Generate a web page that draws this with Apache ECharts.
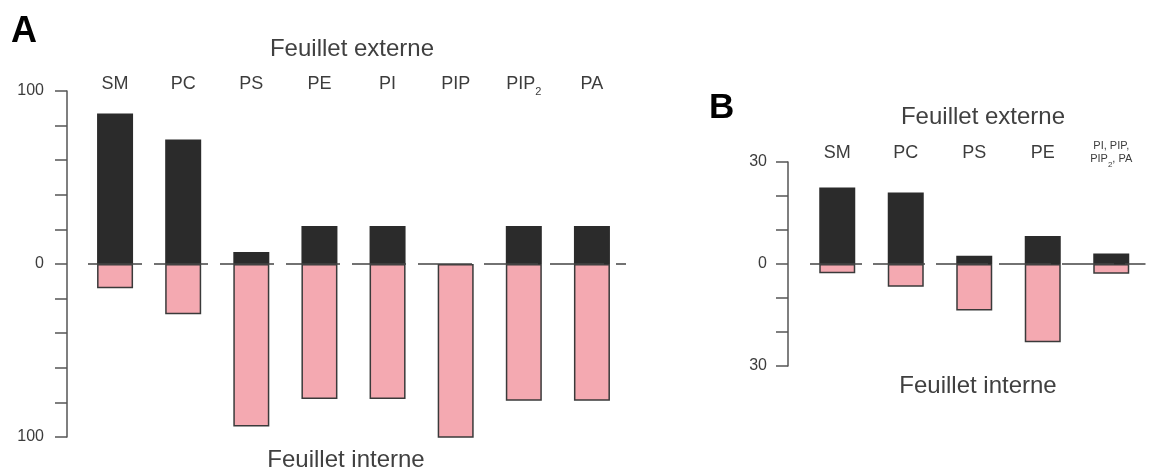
<!DOCTYPE html>
<html>
<head>
<meta charset="utf-8">
<title>Feuillet externe / interne</title>
<script src="https://cdn.jsdelivr.net/npm/echarts@6/dist/echarts.min.js"></script>
<style>
  html, body { margin: 0; padding: 0; background: #ffffff; }
  #chart { width: 1149px; height: 476px; }
</style>
</head>
<body>
<div id="chart"></div>
<script>
// panel A data (percent of each lipid)
var catsA = ['SM', 'PC', 'PS', 'PE', 'PI', 'PIP', 'PIP2', 'PA'];
var externeA = [87, 72, 7, 22, 22, 0, 22, 22];
var interneA = [14, 29, 94, 78, 78, 101, 79, 79];
var ticksA = [-100, 0, 100];

// panel B data
var catsB = ['SM', 'PC', 'PS', 'PE', 'PI, PIP, PIP2, PA'];
var externeB = [22.5, 21, 2.4, 8.2, 3.1];
var interneB = [2.7, 6.7, 13.7, 23, 2.9];
var ticksB = [-30, 0, 30];

var FONT = '"Liberation Sans", Arial, sans-serif';
var TEXT_COLOR = '#3c3c3c';
var AXIS_COLOR = '#555555';
var DARK = '#2b2b2b';
var PINK = '#f4a9b1';

// interne goes downward
function negate(arr){
    return arr.map(function(v){ return -v; });
}

// y axis shows only the labelled ticks, as absolute values
function yAxisFor(gridIndex, range, step, shown, offset, margin){
    return {
        gridIndex: gridIndex,
        type: 'value',
        min: -range,
        max: range,
        interval: step,
        offset: offset,
        axisLine: { show: true, lineStyle: { color: AXIS_COLOR, width: 1.5 } },
        axisTick: { show: true, inside: false, length: 12, lineStyle: { color: AXIS_COLOR, width: 1.5 } },
        splitLine: { show: false },
        axisLabel: {
            margin: margin,
            fontFamily: FONT,
            fontSize: 16,
            color: TEXT_COLOR,
            formatter: function(v){
                return shown.indexOf(v) >= 0 ? String(Math.abs(v)) : '';
            }
        }
    };
}

// n = normal name, s/u = subscript "2" (padding only shifts the glyph, lineHeight is fixed)
var richA = {
    n: { fontFamily: FONT, fontSize: 18, lineHeight: 18, color: TEXT_COLOR, verticalAlign: 'top' },
    s: { fontFamily: FONT, fontSize: 11, lineHeight: 11, color: TEXT_COLOR, verticalAlign: 'top', padding: [11, 0, 0, 0] }
};
var richB = {
    n: { fontFamily: FONT, fontSize: 18, lineHeight: 18, color: TEXT_COLOR, verticalAlign: 'top' },
    t: { fontFamily: FONT, fontSize: 11, lineHeight: 13, color: TEXT_COLOR, verticalAlign: 'top', padding: [4, 0, 0, 0] },
    u: { fontFamily: FONT, fontSize: 8, lineHeight: 8, color: TEXT_COLOR, verticalAlign: 'top', padding: [12, 0, 0, 0] }
};

function labelA(v){
    if (v === 'PIP2') return '{n|PIP}{s|2}';
    return '{n|' + v + '}';
}
function labelB(v){
    if (v === 'PI, PIP, PIP2, PA') return '{t|PI, PIP,}\n{t|PIP}{u|2}{t|, PA}';
    return '{n|' + v + '}';
}

function xAxisFor(gridIndex, cats, fmt, rich, margin){
    return {
        gridIndex: gridIndex,
        type: 'category',
        position: 'top',
        data: cats,
        axisLine: { show: false },
        axisTick: { show: false },
        splitLine: { show: false },
        axisLabel: { margin: margin, interval: 0, formatter: fmt, rich: rich }
    };
}

// zero line, broken between the bars
function zeroLine(dash, offset){
    return {
        silent: true,
        symbol: 'none',
        label: { show: false },
        lineStyle: { color: '#444444', width: 1.5, type: dash, dashOffset: offset },
        data: [{ yAxis: 0 }]
    };
}

function barsFor(idx, ext, intr, dash, offset){
    return [
        {
            type: 'bar',
            xAxisIndex: idx,
            yAxisIndex: idx,
            barWidth: 36,
            barGap: '-100%',
            data: negate(intr),
            itemStyle: { color: PINK, borderColor: '#3a3a3a', borderWidth: 1.5 },
            markLine: zeroLine(dash, offset),
            z: 2
        },
        {
            type: 'bar',
            xAxisIndex: idx,
            yAxisIndex: idx,
            barWidth: 36,
            barGap: '-100%',
            data: ext,
            itemStyle: { color: DARK },
            z: 3
        }
    ];
}

function headText(text, x, y, size, bold){
    return {
        type: 'text',
        x: x,
        y: y,
        style: {
            text: text,
            fill: bold ? '#000000' : '#404040',
            font: (bold ? 'bold ' : '') + size + 'px ' + FONT,
            align: bold ? 'left' : 'center',
            verticalAlign: 'middle'
        }
    };
}

var container = document.getElementById('chart');
var myChart = echarts.init(container, null, { renderer: 'canvas' });

var option = {
    backgroundColor: '#ffffff',
    animation: false,
    grid: [
        { left: 81, width: 545, top: 91, height: 346 },
        { left: 803, width: 342.5, top: 162, height: 204 }
    ],
    xAxis: [
        xAxisFor(0, catsA, labelA, richA, -2),
        xAxisFor(1, catsB, labelB, richB, 0)
    ],
    yAxis: [
        yAxisFor(0, 100, 20, ticksA, 14, 23),
        yAxisFor(1, 30, 10, ticksB, 15, 21)
    ],
    series: barsFor(0, externeA, interneA, [54, 12], 59)
        .concat(barsFor(1, externeB, interneB, [52, 11], 56)),
    graphic: [
        headText('A', 11, 32, 36, true),
        headText('Feuillet externe', 352, 49, 24, false),
        headText('Feuillet interne', 346, 460, 24, false),
        headText('B', 709, 108, 35, true),
        headText('Feuillet externe', 983, 117, 24, false),
        headText('Feuillet interne', 978, 386, 24, false)
    ]
};

myChart.setOption(option);
</script>
</body>
</html>
